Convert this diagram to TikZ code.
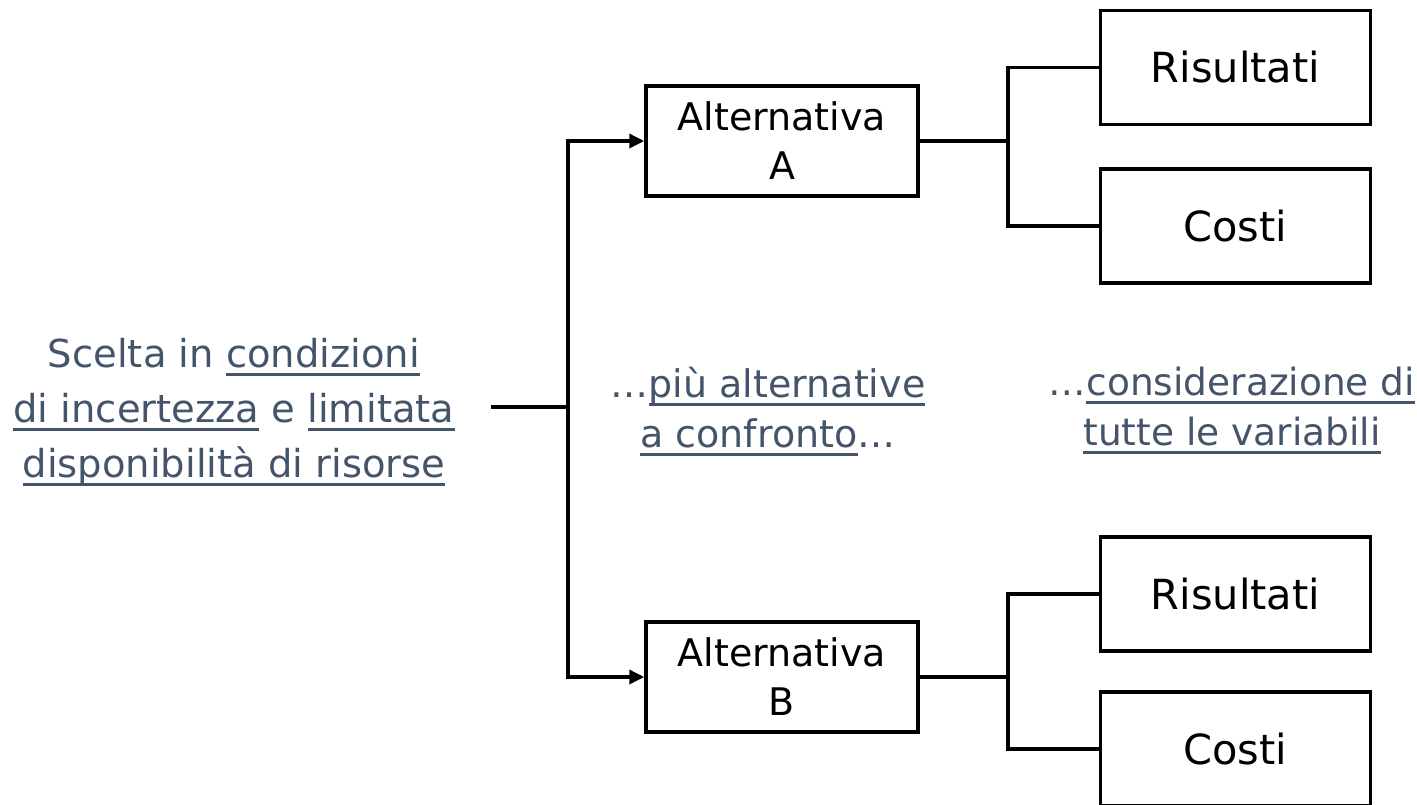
\documentclass[tikz,border=0pt]{standalone}
\usepackage{fontspec}
\setmainfont{DejaVu Sans}
\usetikzlibrary{arrows.meta}
\definecolor{txtblue}{HTML}{44546A}
\newsavebox\ulinebox
\newcommand\uln[1]{\sbox\ulinebox{#1}\rlap{\rule[-8.5pt]{\wd\ulinebox}{2.5pt}}\usebox\ulinebox}
\tikzset{
  box/.style={draw=black, line width=3.5pt, inner sep=0pt, align=center,
    font=\fontsize{38}{49}\selectfont, text=black},
  bigbox/.style={box, minimum width=270pt, minimum height=114pt,
    font=\fontsize{41.5}{49}\selectfont},
  altbox/.style={box, minimum width=272pt, minimum height=110pt},
  freetext/.style={text=txtblue, align=center, inner sep=0pt, anchor=base},
  conn/.style={line width=3.5pt, draw=black},
  arr/.style={conn, -{Triangle[length=15pt,width=14pt]}}
}
\begin{document}
\begin{tikzpicture}[x=1pt,y=-1pt]
\useasboundingbox (0,0) rectangle (1417,804);
% left text
\node[freetext, font=\fontsize{38.5}{55}\selectfont] (scelta) at (234,477)
  {Scelta in \uln{condizioni}\\\uln{di incertezza} e \uln{limitata}\\\uln{disponibilità di risorse}};
% middle texts
\node[freetext, font=\fontsize{38}{50}\selectfont] (piu) at (768,447)
  {…\uln{più alternative}\\\uln{a confronto}…};
\node[freetext, font=\fontsize{37.5}{50}\selectfont] (cons) at (1232,445)
  {…\uln{considerazione di}\\\uln{tutte le variabili}};
% alternative boxes
\node[altbox] (A) at (782,141) {Alternativa\\A};
\node[altbox] (B) at (782,677) {Alternativa\\B};
% result / cost boxes
\node[bigbox] (RA) at (1235.5,67.5) {Risultati};
\node[bigbox] (CA) at (1235.5,226) {Costi};
\node[bigbox] (RB) at (1235.5,594) {Risultati};
\node[bigbox] (CB) at (1235.5,749) {Costi};
% connectors
\coordinate (s) at (491,407);
\coordinate (j) at (568,407);
\coordinate (jA) at (1008,141);
\coordinate (jB) at (1008,677);
\draw[conn] (s) -- (j);
\draw[arr] (j) |- (A.west);
\draw[arr] (j) |- (B.west);
\draw[conn] (A.east) -- (jA);
\draw[conn] (RA.west) -| (jA) |- (CA.west);
\draw[conn] (B.east) -- (jB);
\draw[conn] (RB.west) -| (jB) |- (CB.west);
\end{tikzpicture}
\end{document}
